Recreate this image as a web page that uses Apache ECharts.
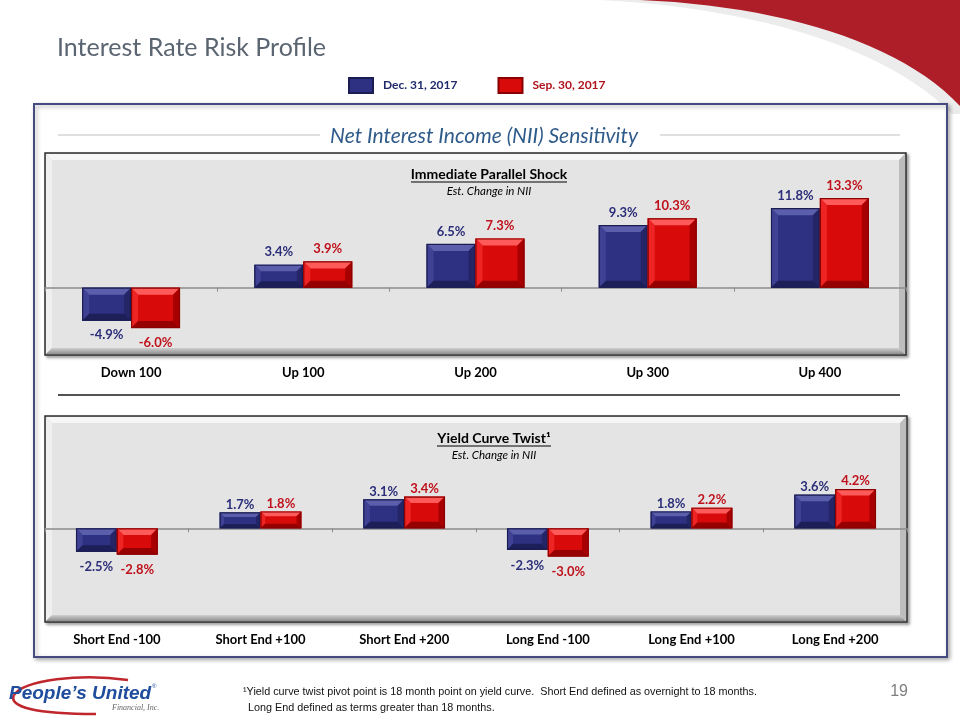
<!DOCTYPE html>
<html><head><meta charset="utf-8">
<script src="https://cdn.jsdelivr.net/npm/echarts@6/dist/echarts.min.js"></script>
<style>html,body{margin:0;padding:0;background:#fff}#c{width:960px;height:720px}</style>
</head><body><div id="c"></div><script>
// ---- data ----
const seriesNames = ['Dec. 31, 2017', 'Sep. 30, 2017'];
const shockCategories = ['Down 100', 'Up 100', 'Up 200', 'Up 300', 'Up 400'];
const shockDec2017 = [-4.9, 3.4, 6.5, 9.3, 11.8];
const shockSep2017 = [-6.0, 3.9, 7.3, 10.3, 13.3];
const twistCategories = ['Short End -100', 'Short End +100', 'Short End +200', 'Long End -100', 'Long End +100', 'Long End +200'];
const twistDec2017 = [-2.5, 1.7, 3.1, -2.3, 1.8, 3.6];
const twistSep2017 = [-2.8, 1.8, 3.4, -3.0, 2.2, 4.2];

// ---- styles ----
const BLUE = {face:'#2E3181', border:'#1A1C52', top:'#5B5EAA', left:'#3F4294', right:'#232566', bottom:'#1D1F58', label:'#2B2E78'};
const RED  = {face:'#D80A0A', border:'#8A0000', top:'#FF5A5A', left:'#EE2424', right:'#A80000', bottom:'#960000', label:'#BF111B'};
const FONT = 'Lato, "Open Sans", sans-serif';

function bevelRenderer(pal, side, posDist, negDist) {
  return function (params, api) {
    const i = api.value(0), v = api.value(1);
    const p0 = api.coord([i, 0]), p1 = api.coord([i, v]);
    const band = api.size([1, 0])[0];
    const w = band * 0.284;
    const x0 = side < 0 ? p0[0] - w : p0[0];
    const x1 = x0 + w;
    const yT = Math.min(p0[1], p1[1]), yB = Math.max(p0[1], p1[1]);
    const h = yB - yT;
    const b = Math.max(1.5, Math.min(7, h * 0.28, w * 0.16));
    const poly = (pts, fill) => ({type:'polygon', shape:{points:pts}, style:{fill:fill}});
    return {type:'group', children:[
      {type:'rect', shape:{x:x0, y:yT, width:w, height:h}, style:{fill:pal.face}},
      poly([[x0,yT],[x1,yT],[x1-b,yT+b],[x0+b,yT+b]], pal.top),
      poly([[x0,yT],[x0+b,yT+b],[x0+b,yB-b],[x0,yB]], pal.left),
      poly([[x1,yT],[x1,yB],[x1-b,yB-b],[x1-b,yT+b]], pal.right),
      poly([[x0,yB],[x0+b,yB-b],[x1-b,yB-b],[x1,yB]], pal.bottom),
      {type:'rect', shape:{x:x0+0.5, y:yT+0.5, width:w-1, height:Math.max(0,h-1)}, style:{fill:'none', stroke:pal.border, lineWidth:1.2}},
      {type:'text', style:{text: v.toFixed(1) + '%', x:(x0+x1)/2, y: v >= 0 ? yT - posDist : yB + negDist,
        align:'center', verticalAlign: v >= 0 ? 'bottom' : 'top', fill: pal.label, font:'bold 13px ' + FONT}}
    ]};
  };
}

function panel(x, y, w, h) {
  const b = 6;
  return [
    {type:'rect', z:-20, shape:{x:x, y:y, width:w, height:h}, style:{fill:'#E4E4E4', stroke:'#2E2E2E', lineWidth:1.5, shadowBlur:3, shadowOffsetX:2, shadowOffsetY:2, shadowColor:'rgba(0,0,0,0.35)'}},
    {type:'polygon', z:-19, shape:{points:[[x+1,y+1],[x+w-1,y+1],[x+w-1-b,y+1+b],[x+1+b,y+1+b]]}, style:{fill:'#F6F6F6'}},
    {type:'polygon', z:-19, shape:{points:[[x+1,y+1],[x+1+b,y+1+b],[x+1+b,y+h-1-b],[x+1,y+h-1]]}, style:{fill:'#EFEFEF'}},
    {type:'polygon', z:-19, shape:{points:[[x+1,y+h-1],[x+1+b,y+h-1-b],[x+w-1-b,y+h-1-b],[x+w-1,y+h-1]]},
      style:{fill:{type:'linear', x:0, y:0, x2:0, y2:1, colorStops:[{offset:0, color:'#CFCFCF'},{offset:1, color:'#8E8E8E'}]}}},
    {type:'polygon', z:-19, shape:{points:[[x+w-1,y+1],[x+w-1,y+h-1],[x+w-1-b,y+h-1-b],[x+w-1-b,y+1+b]]}, style:{fill:'#BDBDBD'}}
  ];
}

// decorative curve helper (cubic bezier sampled to polygon points)
function bez(p0, p1, p2, p3, n) {
  const pts = [];
  for (let k = 0; k <= n; k++) {
    const t = k / n, u = 1 - t;
    pts.push([u*u*u*p0[0] + 3*u*u*t*p1[0] + 3*u*t*t*p2[0] + t*t*t*p3[0],
              u*u*u*p0[1] + 3*u*u*t*p1[1] + 3*u*t*t*p2[1] + t*t*t*p3[1]]);
  }
  return pts;
}

const chart = echarts.init(document.getElementById('c'));

const catLabel = {color:'#000', fontFamily:FONT, fontWeight:'bold', fontSize:13, margin:11};
function labelAxis(grid, cats) {
  return {gridIndex:grid, type:'category', data:cats, position:'bottom',
    axisLine:{show:false, onZero:false}, axisTick:{show:false}, axisLabel:catLabel, splitLine:{show:false}};
}
function zeroAxis(grid, cats) {
  return {gridIndex:grid, type:'category', data:cats, position:'bottom',
    axisLine:{show:true, onZero:true, lineStyle:{color:'#8C8C8C', width:1.5}},
    axisTick:{show:true, length:4, lineStyle:{color:'#8C8C8C'}}, axisLabel:{show:false}, splitLine:{show:false}};
}
function bevelSeries(name, vals, pal, side, xi, yi, posDist, negDist) {
  return {type:'custom', name:name, xAxisIndex:xi, yAxisIndex:yi, clip:false,
    itemStyle:{color:pal.face, borderColor:pal.border, borderWidth:1},
    encode:{x:0, y:1},
    data: vals.map((v, i) => [i, v]),
    renderItem: bevelRenderer(pal, side, posDist, negDist)};
}

const swooshGrey = [[600,0]].concat(bez([600,0],[760,8],[890,50],[952,114],24)).concat([[960,114],[960,0]]);
const swooshRed = [[640,0]].concat(bez([640,0],[780,6],[900,42],[960,106],24)).concat([[960,0]]);

chart.setOption({
  backgroundColor:'#ffffff',
  animation:false,
  title:[
    {text:'Interest Rate Risk Profile', left:52, top:30, textStyle:{fontFamily:FONT, fontWeight:'normal', fontSize:25, color:'#5B6471'}},
    {text:'Net Interest Income (NII) Sensitivity', left:479, top:121, textAlign:'center', textStyle:{fontFamily:FONT, fontStyle:'italic', fontWeight:'normal', fontSize:21, color:'#2F5B8A'}},
    {text:'Immediate Parallel Shock', left:484, top:162, textAlign:'center', textStyle:{fontFamily:FONT, fontWeight:'bold', fontSize:14, color:'#000'},
      subtext:'Est. Change in NII', subtextStyle:{fontFamily:FONT, fontStyle:'italic', fontSize:11.5, color:'#000'}, itemGap:4},
    {text:'Yield Curve Twist\u00B9', left:489, top:426, textAlign:'center', textStyle:{fontFamily:FONT, fontWeight:'bold', fontSize:14, color:'#000'},
      subtext:'Est. Change in NII', subtextStyle:{fontFamily:FONT, fontStyle:'italic', fontSize:11.5, color:'#000'}, itemGap:4}
  ],
  legend:{left:343, top:72, itemWidth:24, itemHeight:15, itemGap:40, icon:'rect', selectedMode:false,
    textStyle:{fontFamily:FONT, fontWeight:'bold', fontSize:12, padding:[0,0,0,5]},
    data:[{name:seriesNames[0], textStyle:{color:'#1F2A6B'}}, {name:seriesNames[1], textStyle:{color:'#B0121B'}}]},
  grid:[
    {left:45, top:153, width:861, height:202},
    {left:45, top:416, width:862, height:206}
  ],
  xAxis:[labelAxis(0, shockCategories), zeroAxis(0, shockCategories), labelAxis(1, twistCategories), zeroAxis(1, twistCategories)],
  yAxis:[
    {gridIndex:0, type:'value', min:-10, max:20, show:false, splitLine:{show:false}},
    {gridIndex:1, type:'value', min:-10, max:12, show:false, splitLine:{show:false}}
  ],
  series:[
    bevelSeries(seriesNames[0], shockDec2017, BLUE, -1, 0, 0, 6, 8),
    bevelSeries(seriesNames[1], shockSep2017, RED, 1, 0, 0, 6, 8),
    bevelSeries(seriesNames[0], twistDec2017, BLUE, -1, 2, 1, 1.5, 9),
    bevelSeries(seriesNames[1], twistSep2017, RED, 1, 2, 1, 1.5, 9)
  ],
  graphic:[].concat(
    [
      {type:'polygon', z:-30, shape:{points:swooshGrey}, style:{fill:'#ECECEC'}},
      {type:'polygon', z:-29, shape:{points:swooshRed}, style:{fill:'#AD1E28'}},
      {type:'rect', z:-25, shape:{x:34, y:104, width:913, height:553}, style:{fill:'#fff', stroke:'#454A80', lineWidth:2, shadowBlur:4, shadowOffsetX:2, shadowOffsetY:2, shadowColor:'rgba(0,0,0,0.3)'}},
      {type:'line', z:-5, shape:{x1:58, y1:135, x2:320, y2:135}, style:{stroke:'#BFBFBF', lineWidth:1}},
      {type:'line', z:-5, shape:{x1:660, y1:135, x2:900, y2:135}, style:{stroke:'#BFBFBF', lineWidth:1}},
      {type:'line', z:-5, shape:{x1:58, y1:395, x2:900, y2:395}, style:{stroke:'#1A1A1A', lineWidth:1.5}},
      {type:'line', z:5, shape:{x1:411, y1:182, x2:567, y2:182}, style:{stroke:'#000', lineWidth:1}},
      {type:'line', z:5, shape:{x1:437, y1:446, x2:551, y2:446}, style:{stroke:'#000', lineWidth:1}}
    ],
    panel(45, 153, 861, 202),
    panel(45, 416, 862, 206),
    [
      {type:'bezierCurve', z:1, shape:{x1:128, y1:680, cpx1:80, cpy1:673, cpx2:24, cpy2:680, x2:14, y2:695}, style:{fill:'none', stroke:'#C0272D', lineWidth:2.5}},
      {type:'bezierCurve', z:1, shape:{x1:14, y1:695, cpx1:8, cpy1:707, cpx2:36, cpy2:714, x2:96, y2:714}, style:{fill:'none', stroke:'#C0272D', lineWidth:2.5}},
      {type:'text', z:2, style:{text:'People\u2019s United', x:9, y:694, verticalAlign:'middle', fill:'#1F4C9C', font:'italic bold 19px "Liberation Sans", sans-serif'}},
      {type:'text', z:2, style:{text:'\u00AE', x:152, y:686, verticalAlign:'middle', fill:'#1F4C9C', font:'6px "Liberation Sans", sans-serif'}},
      {type:'text', z:2, style:{text:'Financial, Inc.', x:112, y:708, verticalAlign:'middle', fill:'#666', font:'italic 8px "Liberation Serif", serif'}},
      {type:'text', style:{text:'\u00B9Yield curve twist pivot point is 18 month point on yield curve.  Short End defined as overnight to 18 months.', x:243, y:692, verticalAlign:'middle', fill:'#111', font:'10.8px "Liberation Sans", sans-serif'}},
      {type:'text', style:{text:'Long End defined as terms greater than 18 months.', x:248, y:708, verticalAlign:'middle', fill:'#111', font:'10.8px "Liberation Sans", sans-serif'}},
      {type:'text', style:{text:'19', x:908, y:692, align:'right', verticalAlign:'middle', fill:'#7F7F7F', font:'16px "Liberation Sans", sans-serif'}}
    ]
  )
});
</script></body></html>
